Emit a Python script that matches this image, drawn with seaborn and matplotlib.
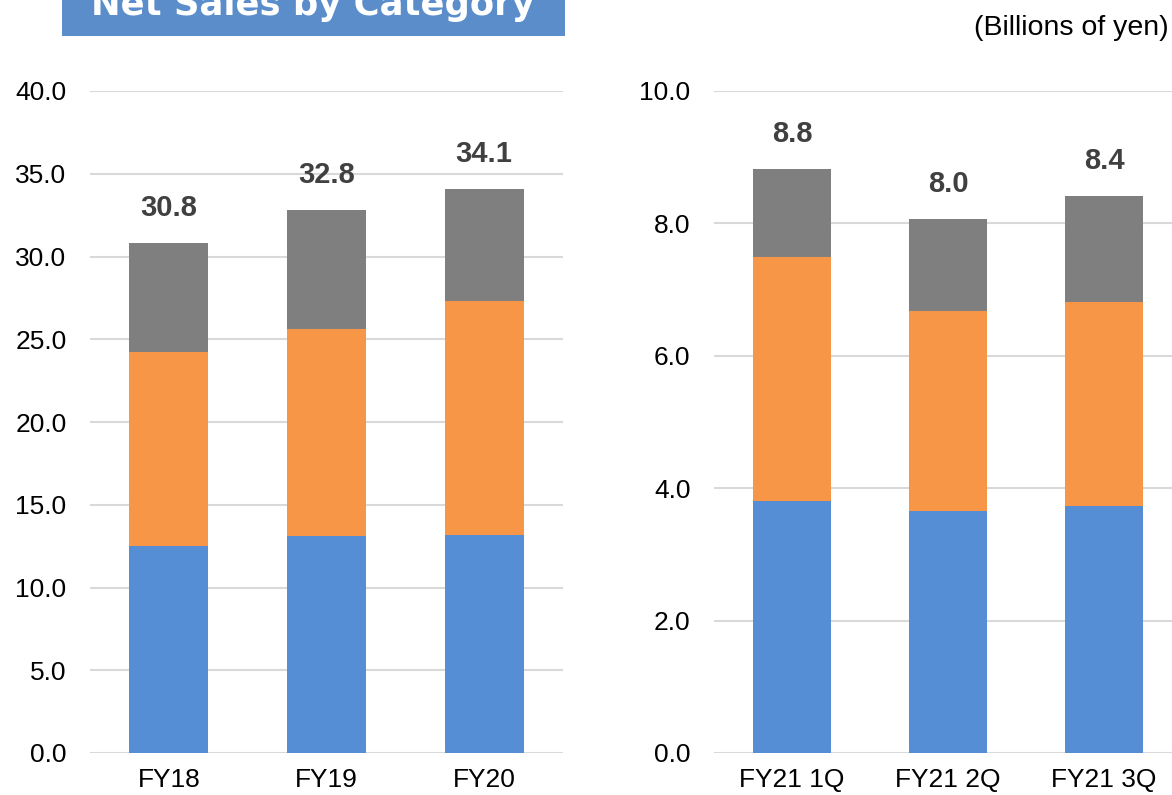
import numpy as np
import pandas as pd
import matplotlib
matplotlib.use("Agg")
import matplotlib.pyplot as plt
import seaborn as sns
from matplotlib.patches import Rectangle

# yearly values (billions of yen)
years = ["FY18", "FY19", "FY20"]
year_blue = [12.5, 13.1, 13.2]
year_orange = [11.7, 12.5, 14.1]
year_gray = [6.6, 7.2, 6.8]
year_totals = [30.8, 32.8, 34.1]

# quarterly values
quarters = ["FY21 1Q", "FY21 2Q", "FY21 3Q"]
qtr_blue = [3.81, 3.65, 3.73]
qtr_orange = [3.69, 3.03, 3.08]
qtr_gray = [1.32, 1.38, 1.61]
qtr_totals = [8.8, 8.0, 8.4]

colors = {"blue": "#558ed5", "orange": "#f79646", "gray": "#7f7f7f"}

sns.set_style("white")
plt.rcParams["font.family"] = ["Liberation Sans", "DejaVu Sans"]

fig = plt.figure(figsize=(11.72, 7.95), dpi=100)
W, H = 1172, 795


def px_axes(x0, x1, y_top, y_bot):
    return fig.add_axes([x0 / W, (H - y_bot) / H, (x1 - x0) / W, (y_bot - y_top) / H])


def stacked(ax, cats, blue, orange, gray, totals, ymax, step):
    df = pd.DataFrame({"cat": cats, "blue": blue, "orange": orange, "gray": gray})
    df["lvl2"] = df["blue"] + df["orange"]
    df["lvl3"] = df["lvl2"] + df["gray"]
    # draw tallest first so that the lower segments sit on top
    for col, c in [("lvl3", "gray"), ("lvl2", "orange"), ("blue", "blue")]:
        sns.barplot(data=df, x="cat", y=col, color=colors[c], saturation=1,
                    width=0.5, ax=ax, zorder=3, linewidth=0)
    for i, t in enumerate(totals):
        ax.annotate(f"{t:.1f}", xy=(i, df["lvl3"][i]), xytext=(0, 35),
                    textcoords="offset pixels", ha="center", va="center",
                    fontsize=21, fontweight="bold", color="#404040")
    ax.set_ylim(0, ymax)
    ax.set_xlim(-0.5, 2.5)
    ticks = np.arange(0, ymax + step / 2, step)
    ax.set_yticks(ticks)
    ax.set_yticklabels([f"{v:.1f}" for v in ticks])
    ax.yaxis.grid(True, color="#d9d9d9", linewidth=1.5, zorder=0)
    ax.set_axisbelow(True)
    ax.set_xlabel("")
    ax.set_ylabel("")
    for s in ax.spines.values():
        s.set_visible(False)
    ax.tick_params(axis="y", length=0, pad=17, labelsize=19, labelcolor="black")
    ax.tick_params(axis="x", length=0, pad=11, labelsize=19, labelcolor="black")


ax1 = px_axes(90, 563, 91, 753)
stacked(ax1, years, year_blue, year_orange, year_gray, year_totals, 40, 5)

ax2 = px_axes(714, 1182, 91, 753)
stacked(ax2, quarters, qtr_blue, qtr_orange, qtr_gray, qtr_totals, 10, 2)

# title banner, partially cut by the top edge
fig.patches.append(Rectangle((62 / W, (H - 36) / H), (565 - 62) / W, 60 / H,
                             transform=fig.transFigure, facecolor="#5b8dcb",
                             edgecolor="none", zorder=0))
fig.text(313 / W, (H - 15) / H, "Net Sales by Category", ha="center", va="baseline",
         color="white", fontsize=25.5, fontweight="bold", family="DejaVu Sans")

fig.text(1169 / W, (H - 35) / H, "(Billions of yen)", ha="right", va="baseline",
         fontsize=20.5, color="black")

fig.savefig("out.png", dpi=100)
